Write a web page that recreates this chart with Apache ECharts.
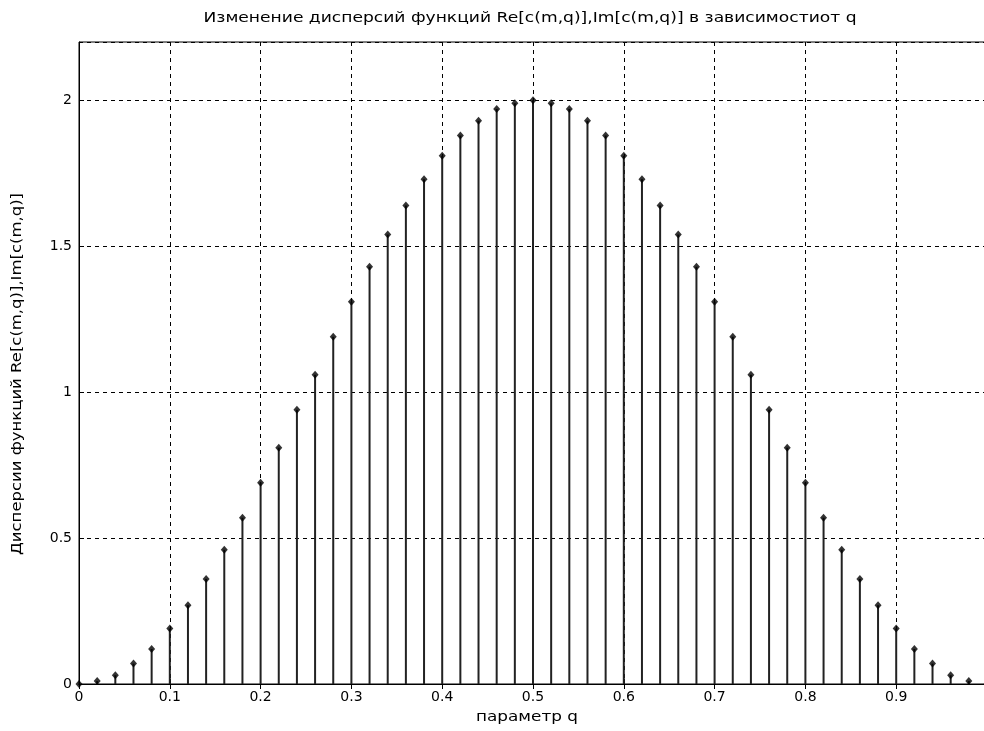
<!DOCTYPE html>
<html><head><meta charset="utf-8">
<script src="https://cdn.jsdelivr.net/npm/echarts@6/dist/echarts.min.js"></script>
<style>html,body{margin:0;padding:0;background:#fff}#c{width:984px;height:731px}</style>
</head><body><div id="c"></div>
<script>
const qValues = [0,0.02,0.04,0.06,0.08,0.10,0.12,0.14,0.16,0.18,0.20,0.22,0.24,0.26,0.28,0.30,0.32,0.34,0.36,0.38,0.40,0.42,0.44,0.46,0.48,0.50,0.52,0.54,0.56,0.58,0.60,0.62,0.64,0.66,0.68,0.70,0.72,0.74,0.76,0.78,0.80,0.82,0.84,0.86,0.88,0.90,0.92,0.94,0.96,0.98,1.00];
const dispersion = [0,0.01,0.03,0.07,0.12,0.19,0.27,0.36,0.46,0.57,0.69,0.81,0.94,1.06,1.19,1.31,1.43,1.54,1.64,1.73,1.81,1.88,1.93,1.97,1.99,2.00,1.99,1.97,1.93,1.88,1.81,1.73,1.64,1.54,1.43,1.31,1.19,1.06,0.94,0.81,0.69,0.57,0.46,0.36,0.27,0.19,0.12,0.07,0.03,0.01,0];
const xTicks = [0,0.1,0.2,0.3,0.4,0.5,0.6,0.7,0.8,0.9,1];
const yTicks = [0,0.5,1,1.5,2];
const titleText = 'Изменение дисперсий функций Re[c(m,q)],Im[c(m,q)] в зависимостиот q';
const xName = 'параметр q';
const yName = 'Дисперсии функций Re[c(m,q)],Im[c(m,q)]';

const pts = qValues.map((q,i)=>[q,dispersion[i]]);
const font = 'DejaVu Sans, sans-serif';
const fs = 14;
const ctx = document.createElement('canvas').getContext('2d');
ctx.font = fs + 'px ' + font;
const sx = (t, w) => w / ctx.measureText(t).width;

const chart = echarts.init(document.getElementById('c'));
const dash = {color:'#000',width:1,type:[4,4]};
const txt = (t, x, y, w, rot) => ({
  type:'text', x:x, y:y, rotation:rot||0, scaleX:sx(t,w), z:10,
  style:{text:t, font: fs+'px '+font, fill:'#000', align:'center', verticalAlign:'middle'}
});
chart.setOption({
  animation:false,
  grid:{left:79,right:-3,top:42,bottom:47,show:true,borderColor:'#000',borderWidth:1,backgroundColor:'#fff',outerBoundsMode:'none'},
  xAxis:[{type:'value',min:0,max:1,interval:0.1,
    axisLine:{show:true,onZero:false,lineStyle:{color:'#000',width:1}},
    axisTick:{show:true,inside:true,length:5,lineStyle:{color:'#000'}},
    axisLabel:{fontFamily:font,fontSize:fs,color:'#000',margin:6,showMaxLabel:true,hideOverlap:false,formatter:v=>xTicks.some(t=>Math.abs(t-v)<1e-9)?String(+v.toFixed(1)):''},
    splitLine:{show:true,lineStyle:dash}},
   {type:'value',position:'top',min:0,max:1,interval:0.1,
    axisLine:{show:true,lineStyle:{color:'#000'}},
    axisTick:{show:true,inside:true,length:5,lineStyle:{color:'#000'}},
    axisLabel:{show:false},splitLine:{show:false}}],
  yAxis:[{type:'value',min:0,max:2.2,interval:0.5,
    axisLine:{show:true,lineStyle:{color:'#000',width:1}},
    axisTick:{show:true,inside:true,length:5,lineStyle:{color:'#000'}},
    axisLabel:{fontFamily:font,fontSize:fs,color:'#000',margin:7,showMaxLabel:false,formatter:v=>yTicks.some(t=>Math.abs(t-v)<1e-9)?String(v):''},
    splitLine:{show:true,lineStyle:dash}}],
  graphic:[
    txt(titleText, 530, 18, 653, 0),
    txt(xName, 527, 717, 102, 0),
    txt(yName, 17, 374, 362, Math.PI/2)
  ],
  series:[
    {type:'bar',data:pts,barWidth:2,itemStyle:{color:'#222'},z:3},
    {type:'scatter',data:pts,symbol:'diamond',symbolSize:[7,8],itemStyle:{color:'#000'},z:4}
  ]
});
</script></body></html>
